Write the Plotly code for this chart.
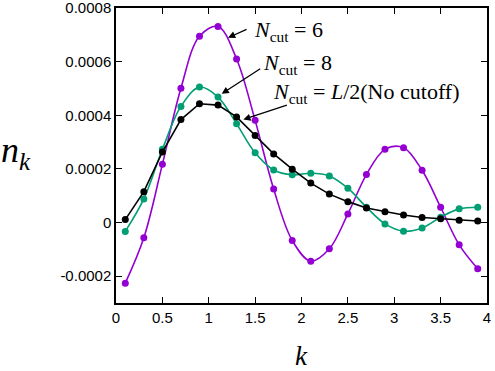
import plotly.graph_objects as go

# data
k = [0.1, 0.3, 0.5, 0.7, 0.9, 1.1, 1.3, 1.5, 1.7, 1.9,
     2.1, 2.3, 2.5, 2.7, 2.9, 3.1, 3.3, 3.5, 3.7, 3.9]

nk_cut6 = [-0.000226, -0.000057, 0.000217, 0.000501, 0.000695, 0.000731, 0.000610, 0.000381, 0.000125, -0.000067,
           -0.000144, -0.000098, 0.000032, 0.000179, 0.000273, 0.000279, 0.000195, 0.000057, -0.000083, -0.000172]

nk_cut8 = [-0.000033, 0.000088, 0.000273, 0.000433, 0.000505, 0.000468, 0.000368, 0.000260, 0.000196, 0.000178,
           0.000184, 0.000174, 0.000128, 0.000057, -0.000005, -0.000032, -0.000020, 0.000020, 0.000051, 0.000057]

nk_nocut = [0.000011, 0.000115, 0.000263, 0.000384, 0.000443, 0.000438, 0.000394, 0.000325, 0.000256, 0.000199,
            0.000147, 0.000106, 0.000078, 0.000054, 0.000040, 0.000028, 0.000019, 0.000014, 0.000009, 0.000006]

ytick_vals = [-0.0002, 0, 0.0002, 0.0004, 0.0006, 0.0008]
ytick_text = ["-0.0002", "0", "0.0002", "0.0004", "0.0006", "0.0008"]
xtick_vals = [0, 0.5, 1, 1.5, 2, 2.5, 3, 3.5, 4]
xtick_text = ["0", "0.5", "1", "1.5", "2", "2.5", "3", "3.5", "4"]

PURPLE = "#9400D3"
GREEN = "#009E73"
BLACK = "#000000"
SERIF = "Liberation Serif, DejaVu Serif, serif"
SANS = "Liberation Sans, Arial, sans-serif"

fig = go.Figure()

fig.add_trace(go.Scatter(x=k, y=nk_cut6, mode="lines+markers", line_shape="spline",
                         line=dict(color=PURPLE, width=1.6), marker=dict(color=PURPLE, size=7)))
fig.add_trace(go.Scatter(x=k, y=nk_cut8, mode="lines+markers", line_shape="spline",
                         line=dict(color=GREEN, width=1.6), marker=dict(color=GREEN, size=7)))
fig.add_trace(go.Scatter(x=k, y=nk_nocut, mode="lines+markers",
                         line=dict(color=BLACK, width=1.6), marker=dict(color=BLACK, size=7)))

axis_common = dict(showline=True, linecolor="black", linewidth=1.5, mirror="ticks",
                   ticks="inside", ticklen=6, tickcolor="black", showgrid=False, zeroline=False,
                   automargin=False, ticklabeloverflow="allow",
                   tickfont=dict(family=SANS, size=15, color="black"))

fig.update_xaxes(range=[0, 4], tickvals=xtick_vals, ticktext=xtick_text, **axis_common)
fig.update_yaxes(range=[-0.0003, 0.0008], tickvals=ytick_vals, ticktext=ytick_text, **axis_common)

# labels with arrows: (text, arrow head x, y, tail offset ax, ay, text left x, text y)
labels = [
    ("<i>N</i><sub>cut</sub> = 6", 1.208, 0.000689, 20, -9, 1.470, 0.000715),
    ("<i>N</i><sub>cut</sub> = 8", 1.140, 0.000480, 40, -26, 1.566, 0.000590),
    ("<i>N</i><sub>cut</sub> = <i>L</i>/2(No cutoff)", 1.373, 0.000384, 45, -15, 1.668, 0.000482),
]
for text, hx, hy, ax, ay, tx, ty in labels:
    fig.add_annotation(x=hx, y=hy, ax=ax, ay=ay, text="", showarrow=True,
                       arrowhead=2, arrowsize=1.1, arrowwidth=1.3, arrowcolor="black")
    fig.add_annotation(x=tx, y=ty, text=text, showarrow=False,
                       xanchor="left", yanchor="middle",
                       font=dict(family=SERIF, size=22, color="black"))

# axis titles
fig.add_annotation(xref="paper", yref="paper", x=-0.315, y=0.51, text="<i>n<sub>k</sub></i>",
                   xanchor="left", yanchor="middle", showarrow=False,
                   font=dict(family=SERIF, size=36, color="black"))
fig.add_annotation(xref="paper", yref="paper", x=0.5, y=-0.18, text="<i>k</i>", yanchor="middle",
                   showarrow=False, font=dict(family=SERIF, size=27, color="black"))

fig.update_layout(width=495, height=371, showlegend=False,
                  plot_bgcolor="white", paper_bgcolor="white",
                  margin=dict(l=116, r=8, t=8, b=68))

fig.write_html("out.html", config={"displayModeBar": False},
               post_script="document.body.style.margin='0';")
